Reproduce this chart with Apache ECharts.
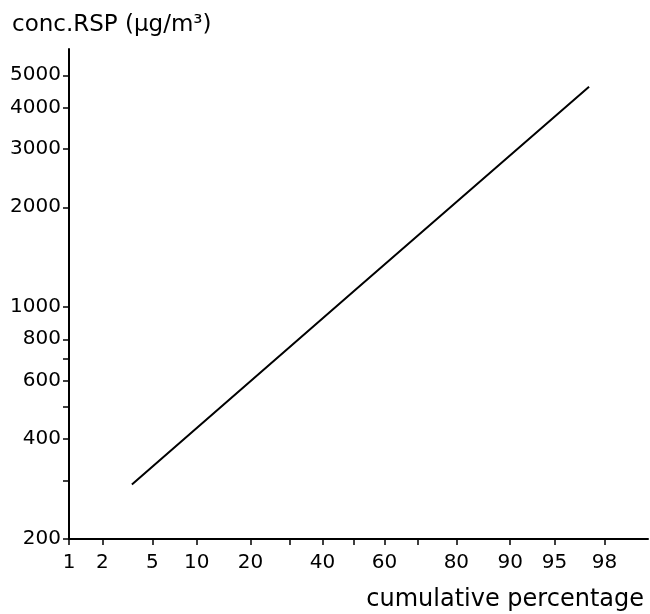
<!DOCTYPE html>
<html>
<head>
<meta charset="utf-8">
<script src="https://cdn.jsdelivr.net/npm/echarts@6/dist/echarts.min.js"></script>
<style>
  html, body { margin: 0; padding: 0; background: #fff; }
  #main { width: 650px; height: 614px; }
</style>
</head>
<body>
<div id="main"></div>
<script>
// data (probability paper: x = cumulative %, y = log conc)
var cumPct = [3.5, 50, 97.3];          // cumulative percentage
var concRSP = [292, 1115, 4620];       // conc.RSP ug/m3

var xLabelPct = [1, 2, 5, 10, 20, 40, 60, 80, 90, 95, 98];
var xTickPct = [1, 2, 5, 10, 20, 30, 40, 50, 60, 70, 80, 90, 95, 98];
var yLabelVals = [200, 400, 600, 800, 1000, 2000, 3000, 4000, 5000];
var yTickVals = [200, 300, 400, 500, 600, 700, 800, 1000, 2000, 3000, 4000, 5000];

// inverse normal cdf (Acklam) -> probability axis
function probit(p) {
    var a = [-3.969683028665376e+01, 2.209460984245205e+02, -2.759285104469687e+02, 1.383577518672690e+02, -3.066479806614716e+01, 2.506628277459239e+00];
    var b = [-5.447609879822406e+01, 1.615858368580409e+02, -1.556989798598866e+02, 6.680131188771972e+01, -1.328068155288572e+01];
    var c = [-7.784894002430293e-03, -3.223964580411365e-01, -2.400758277161838e+00, -2.549732539343734e+00, 4.374664141464968e+00, 2.938163982698783e+00];
    var d = [7.784695709041462e-03, 3.224671290700398e-01, 2.445134137142996e+00, 3.754408661907416e+00];
    var pl = 0.02425, q, r;
    if (p < pl) {
        q = Math.sqrt(-2 * Math.log(p));
        return (((((c[0]*q+c[1])*q+c[2])*q+c[3])*q+c[4])*q+c[5]) / ((((d[0]*q+d[1])*q+d[2])*q+d[3])*q+1);
    }
    if (p <= 1 - pl) {
        q = p - 0.5; r = q * q;
        return (((((a[0]*r+a[1])*r+a[2])*r+a[3])*r+a[4])*r+a[5])*q / (((((b[0]*r+b[1])*r+b[2])*r+b[3])*r+b[4])*r+1);
    }
    q = Math.sqrt(-2 * Math.log(1 - p));
    return -(((((c[0]*q+c[1])*q+c[2])*q+c[3])*q+c[4])*q+c[5]) / ((((d[0]*q+d[1])*q+d[2])*q+d[3])*q+1);
}
function z(pct) { return probit(pct / 100); }

var lineData = [];
for (var i = 0; i < cumPct.length; i++) {
    lineData.push([z(cumPct[i]), concRSP[i]]);
}

var font = '"DejaVu Sans", sans-serif';
var chart = echarts.init(document.getElementById('main'));

var option = {
    backgroundColor: '#ffffff',
    animation: false,
    grid: { left: 69, right: 2, top: 49, bottom: 75, containLabel: false },
    xAxis: {
        type: 'value',
        min: z(1),
        max: z(99.2),
        name: 'cumulative percentage',
        nameLocation: 'end',
        nameGap: 0,
        nameTextStyle: {
            color: '#000', fontFamily: font, fontSize: 24,
            align: 'right', verticalAlign: 'top', padding: [49, 4, 0, 0]
        },
        axisLine: { onZero: false, lineStyle: { color: '#000', width: 2 } },
        axisTick: {
            inside: false, length: 6,
            customValues: xTickPct.map(z),
            lineStyle: { color: '#000', width: 1.5 }
        },
        axisLabel: {
            customValues: xLabelPct.map(z),
            margin: 14,
            color: '#000', fontFamily: font, fontSize: 20,
            formatter: function (v) {
                var best = xLabelPct[0];
                xLabelPct.forEach(function (p) {
                    if (Math.abs(z(p) - v) < Math.abs(z(best) - v)) best = p;
                });
                return String(best);
            }
        },
        splitLine: { show: false }
    },
    yAxis: {
        type: 'log',
        logBase: 10,
        min: 200,
        max: 6000,
        name: 'conc.RSP (\u03bcg/m\u00b3)',
        nameLocation: 'end',
        nameGap: 12,
        nameTextStyle: {
            color: '#000', fontFamily: font, fontSize: 23,
            align: 'left', padding: [0, 0, 0, -57]
        },
        axisLine: { show: true, onZero: false, lineStyle: { color: '#000', width: 2 } },
        axisTick: {
            show: true, inside: false, length: 6,
            customValues: yTickVals,
            lineStyle: { color: '#000', width: 1.5 }
        },
        axisLabel: {
            customValues: yLabelVals,
            margin: 8,
            color: '#000', fontFamily: font, fontSize: 20,
            formatter: function (v) { return String(Math.round(v)); }
        },
        splitLine: { show: false }
    },
    series: [{
        type: 'line',
        data: lineData,
        showSymbol: false,
        lineStyle: { color: '#000', width: 2 }
    }]
};
chart.setOption(option);
</script>
</body>
</html>
